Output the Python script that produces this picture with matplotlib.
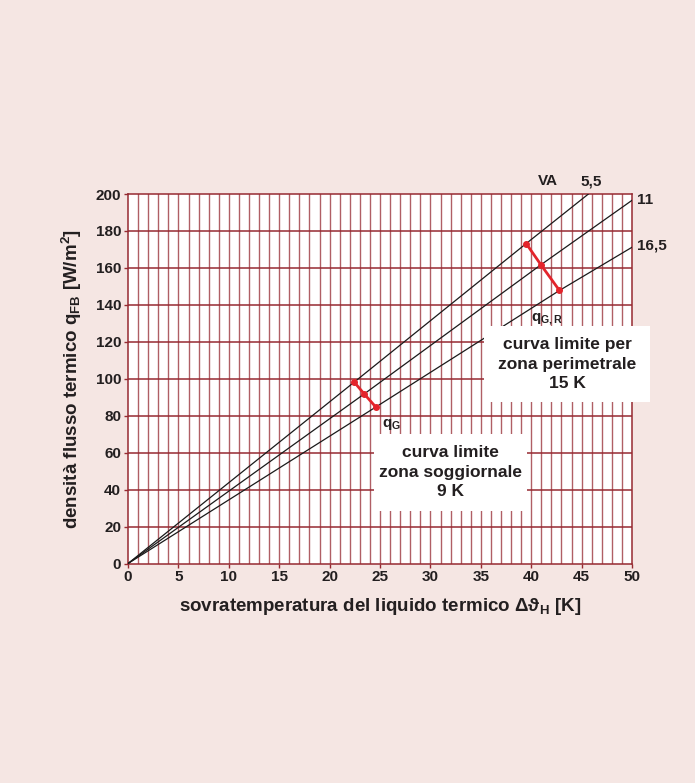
import matplotlib.pyplot as plt
from matplotlib.patches import Rectangle

# --- DATA ---
# curves for VA = 5,5 / 11 / 16,5
va_labels = ["5,5", "11", "16,5"]
x_55 = [0, 22.44, 39.5, 45.67]
q_55 = [0, 98.2, 173.2, 200]
x_11 = [0, 23.43, 40.96, 50]
q_11 = [0, 91.8, 161.7, 196.6]
x_165 = [0, 24.58, 42.8, 50]
q_165 = [0, 84.7, 147.8, 171.2]

# limit curves (red)
qg_x = [22.44, 23.43, 24.58]
qg_y = [98.2, 91.8, 84.7]
qgr_x = [39.5, 40.96, 42.8]
qgr_y = [173.2, 161.7, 147.8]

x_ticks = list(range(0, 51, 5))
y_ticks = list(range(0, 201, 20))

BG = "#f5e6e3"
GRID = "#962a31"
TXT = "#231f20"

plt.rcParams["font.family"] = ["Liberation Sans", "DejaVu Sans"]
plt.rcParams["font.weight"] = "bold"
plt.rcParams["mathtext.fontset"] = "custom"
plt.rcParams["mathtext.bf"] = "Liberation Sans:bold"
plt.rcParams["mathtext.rm"] = "Liberation Sans:bold"
plt.rcParams["mathtext.it"] = "Liberation Sans:bold"

fig = plt.figure(figsize=(6.95, 7.83), dpi=100, facecolor=BG)
ax = fig.add_axes([0.1842, 0.2803, 0.7252, 0.4719])
ax.set_facecolor("white")
ax.set_xlim(0, 50)
ax.set_ylim(0, 200)

# grid
for xv in range(1, 50):
    ax.axvline(xv, color=GRID, lw=1.0, alpha=0.75, zorder=1)
for yv in y_ticks[1:-1]:
    ax.axhline(yv, color=GRID, lw=1.1, zorder=1)
for s in ax.spines.values():
    s.set_color(GRID)
    s.set_linewidth(1.1)

ax.set_xticks(x_ticks)
ax.set_yticks(y_ticks)
ax.tick_params(axis="both", colors=GRID, length=3, width=1.0, labelcolor=TXT,
               labelsize=11, pad=2)
for lab in ax.get_xticklabels() + ax.get_yticklabels():
    lab.set_fontweight("bold")

# curves
for xs, qs in [(x_55, q_55), (x_11, q_11), (x_165, q_165)]:
    ax.plot(xs, qs, color="#1a1a1a", lw=0.9, zorder=3)

ax.plot(qg_x, qg_y, color="#e3242b", lw=2, marker="o", ms=4, zorder=4)
ax.plot(qgr_x, qgr_y, color="#e3242b", lw=2, marker="o", ms=4, zorder=4)

# white text boxes
ax.add_patch(Rectangle((35.35, 87.5), 16.4, 40.8, facecolor="white", edgecolor="none",
                       zorder=5, clip_on=False))
ax.add_patch(Rectangle((24.45, 28.6), 15.1, 41.4, facecolor="white", edgecolor="none",
                       zorder=5, clip_on=False))

tkw = dict(ha="center", va="center", fontsize=12.5, fontweight="bold", color=TXT,
           linespacing=1.38, zorder=6)
ax.text(43.55, 107.8, "curva limite per\nzona perimetrale\n15 K", **tkw)
ax.text(31.95, 49.5, "curva limite\nzona soggiornale\n9 K", **tkw)

lkw = dict(fontsize=11, fontweight="bold", color=TXT, zorder=6, clip_on=False)
ax.text(25.2, 75.5, r"q$_\mathbf{G}$", ha="left", va="center", **lkw)
ax.text(40.0, 132, r"q$_\mathbf{G,R}$", ha="left", va="center", **lkw)
ax.text(41.7, 203, "VA", ha="center", va="bottom", **lkw)
ax.text(45.9, 203, va_labels[0], ha="center", va="bottom", **lkw)
ax.text(50.5, 196.6, va_labels[1], ha="left", va="center", **lkw)
ax.text(50.5, 172, va_labels[2], ha="left", va="center", **lkw)

ax.set_xlabel(r"sovratemperatura del liquido termico $\mathbf{\Delta\vartheta_H}$ [K]",
              fontsize=13.5, fontweight="bold", color=TXT, labelpad=8)
ax.set_ylabel(r"densità flusso termico q$_\mathbf{FB}$ [W/m$^\mathbf{2}$]",
              fontsize=13.5, fontweight="bold", color=TXT, labelpad=8)

fig.savefig("out.png", dpi=100, facecolor=BG)
